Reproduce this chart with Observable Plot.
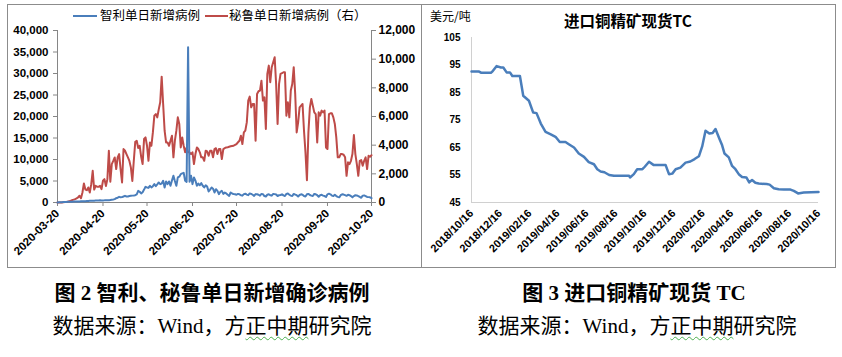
<!DOCTYPE html>
<html><head><meta charset="utf-8">
<script src="https://cdn.jsdelivr.net/npm/d3@7"></script>
<script src="https://cdn.jsdelivr.net/npm/@observablehq/plot@0.6"></script>
<style>
body{margin:0;background:#fff;}
#page{position:relative;width:842px;height:357px;overflow:hidden;background:#fff;font-family:"Liberation Sans",Arial,"Noto Sans CJK SC",sans-serif;}
.panel{position:absolute;border:1px solid #8c8c8c;box-sizing:border-box;}
.abs{position:absolute;white-space:nowrap;line-height:1;}
.cjk{font-family:"Noto Sans CJK SC",sans-serif;}
.cap1{font-family:"Liberation Serif","Noto Sans CJK SC",serif;font-weight:bold;font-size:21px;text-align:center;width:400px;}
.cap2{font-family:"Liberation Serif","Noto Sans CJK SC",serif;font-size:21px;text-align:center;width:400px;}
.wavy{text-decoration:underline wavy #4caf50;text-decoration-thickness:1px;text-underline-offset:3px;}
.plot{position:absolute;}
</style></head>
<body>
<div id="page">
  <div class="panel" style="left:7px;top:4px;width:415px;height:264px;"></div>
  <div class="panel" style="left:421px;top:4px;width:415px;height:264px;"></div>
  <div id="left" class="plot" style="left:7px;top:4px;"></div>
  <div id="right" class="plot" style="left:421px;top:4px;"></div>
  <div id="legend"></div>
  <div class="abs cjk" style="left:430px;top:10px;font-size:12px;">美元/吨</div>
  <div class="abs cjk" style="left:548px;top:13px;width:160px;text-align:center;font-size:15.5px;font-weight:bold;">进口铜精矿现货TC</div>
  <div class="abs cap1" style="left:12px;top:283px;">图 2&nbsp;智利、秘鲁单日新增确诊病例</div>
  <div class="abs cap2" style="left:12px;top:316px;">数据来源：Wind，方<span class="wavy">正中期</span>研究院</div>
  <div class="abs cap1" style="left:434px;top:283px;">图 3&nbsp;进口铜精矿现货 TC</div>
  <div class="abs cap2" style="left:437px;top:316px;">数据来源：Wind，方<span class="wavy">正中期</span>研究院</div>
</div>
<script>
// ---- Figure 2: daily new cases (from 2020-03-20, one value per day)
const startDate = "2020-03-20";
const chileDaily = [0,50,50,80,100,100,130,150,160,180,
200,210,220,230,250,250,270,280,300,300,
330,350,400,420,380,420,450,480,450,500,
470,480,500,530,540,500,600,650,700,780,
1000,1100,1320,1200,1250,1400,1550,1400,1400,1500,
1550,1600,1650,1710,1900,2720,2500,2100,2400,3000,
3650,3500,3400,3880,3500,3800,4270,3800,4200,4660,
4270,4400,5050,3500,4900,4270,4900,3900,5100,6220,
5000,3880,5830,6000,6600,6760,6900,5050,4800,36100,
4800,6220,4270,5830,5100,3880,4400,4000,4500,3900,
3500,4000,3700,2560,3000,3500,3200,2330,3100,2700,
1940,2500,2700,2000,2300,2100,1800,1550,2330,2100,
1950,1900,1800,2000,1900,1700,1600,1950,2050,1850,
1700,2100,2000,1800,1550,1950,1900,1800,1600,2000,
1950,1500,1400,1800,1900,1700,1600,2000,1950,1850,
1500,1700,1750,1900,1650,1500,2000,2100,1800,1600,
1500,2000,1850,1700,1400,1750,1900,1800,1500,1400,
1900,2000,1750,1600,1500,2000,1900,1700,1350,1700,
1800,1600,1500,1300,1900,2050,1900,1600,1500,1800,
1500,1300,1200,1700,1900,1850,1700,1550,1800,1700,
1500,1200,1500,1700,1650,1500,1300,1100,1600,1650,
1500,1300,1250,1200,1000];
const peruDaily = [0,0,0,0,10,30,40,60,80,120,
170,200,240,290,350,470,300,700,1330,900,
860,1050,700,1280,2210,900,1165,1100,1095,1160,
930,1515,1630,1150,1630,3610,1450,2680,2900,3145,
2330,3145,3380,2330,1400,3730,3610,3380,3150,2900,
2450,1500,2910,4240,4310,3800,3960,3200,2680,4430,
4540,3960,2910,4190,3960,4890,6060,6170,5940,6500,
6990,8780,6870,5010,4190,4190,3960,4310,4660,3150,
4310,5010,5940,5480,3840,4540,3960,3500,3840,3500,
3500,3380,3500,2680,3380,3840,3730,3500,3150,3150,
2910,3610,3560,3260,3610,3610,3150,3730,3790,3380,
3730,3730,3030,3730,3790,3840,3860,3890,3920,3940,
3960,4020,4080,4200,4310,4660,4080,4890,5010,5590,
7110,7390,6640,6870,6870,4310,7570,7760,7810,8500,
7110,7340,5130,8970,9550,8390,9440,9790,10140,8270,
5480,8270,8970,9020,9090,9090,6060,6990,5940,7810,
8270,9440,7570,4890,5590,6640,6760,6870,5010,3500,
1560,4890,6640,7220,6760,6290,6170,4190,6290,6060,
6410,6290,6410,3840,3730,6170,6220,6220,5940,5480,
4540,3150,3150,3380,3380,3330,3150,1860,2800,2680,
2910,3380,4710,3380,2680,1860,2910,2960,2560,2910,
3150,2330,3260,3190,3300];
const fig2XTicks = ["2020-03-20","2020-04-20","2020-05-20","2020-06-20","2020-07-20","2020-08-20","2020-09-20","2020-10-20"];
const fig2LeftTicks = [0,5000,10000,15000,20000,25000,30000,35000,40000];
const fig2RightTicks = [0,2000,4000,6000,8000,10000,12000];
const seriesNames = ["智利单日新增病例","秘鲁单日新增病例（右）"];
const seriesColors = ["#4a7ebb","#be4b48"];

// ---- Figure 3: imported copper concentrate spot TC (USD/t)
const tcDates = ["2018-10-16","2018-11-01","2018-11-05","2018-11-26","2018-11-29","2018-12-08","2018-12-17","2018-12-22","2018-12-29","2019-01-05","2019-01-10","2019-01-26","2019-02-02","2019-02-14","2019-02-23","2019-03-02","2019-03-11","2019-03-21","2019-04-01","2019-04-11","2019-04-20","2019-05-02","2019-05-09","2019-05-20","2019-05-30","2019-06-10","2019-06-20","2019-07-01","2019-07-08","2019-07-15","2019-07-23","2019-08-02","2019-08-12","2019-09-13","2019-09-15","2019-09-23","2019-09-30","2019-10-11","2019-10-16","2019-10-25","2019-11-04","2019-11-29","2019-12-06","2019-12-13","2019-12-20","2019-12-30","2020-01-10","2020-01-20","2020-01-29","2020-02-07","2020-02-14","2020-02-21","2020-02-29","2020-03-07","2020-03-13","2020-03-21","2020-03-27","2020-04-01","2020-04-10","2020-04-17","2020-04-24","2020-05-01","2020-05-08","2020-05-17","2020-05-23","2020-05-29","2020-06-05","2020-06-12","2020-06-29","2020-07-05","2020-07-14","2020-07-24","2020-08-04","2020-08-18","2020-08-25","2020-09-03","2020-09-15","2020-10-16"];
const tcValues = [92.6,92.6,92.2,92.2,92.6,94.6,94.1,94.1,92.3,92.3,91.0,91.0,83.8,82.0,77.7,77.5,73.7,70.7,69.8,68.9,67.0,67.0,66.2,65.0,62.8,61.6,59.7,58.9,57.1,56.3,56.0,55.0,54.7,54.7,54.1,55.3,57.1,57.1,58.0,59.8,58.6,58.6,55.3,55.5,57.1,57.7,59.5,59.9,60.8,61.8,65.4,71.1,70.1,70.3,71.7,68.3,65.8,62.8,61.4,58.3,57.1,55.3,54.3,54.1,52.3,53.2,52.2,51.9,51.7,51.5,50.2,49.8,49.7,49.7,49.2,48.3,48.6,48.8];
const fig3XTicks = ["2018-10-16","2018-12-16","2019-02-16","2019-04-16","2019-06-16","2019-08-16","2019-10-16","2019-12-16","2020-02-16","2020-04-16","2020-06-16","2020-08-16","2020-10-16"];
const fig3YTicks = [45,55,65,75,85,95,105];

// ---------- build
const d0 = new Date(startDate + "T00:00:00Z");
const dayDate = i => new Date(d0.getTime() + i * 86400000);
const k = 40000 / 12000; // right axis -> left axis
const chile = chileDaily.map((v, i) => ({date: dayDate(i), v}));
const peru = peruDaily.map((v, i) => ({date: dayDate(i), v: v * k}));
const p = s => new Date(s + "T00:00:00Z");
const fmt = d3.format(",");
const axisGrey = "#868686";
const tickFont = {fontFamily: '"Liberation Sans", Arial, sans-serif', fontWeight: "bold", fontSize: "11px", color: "#000", background: "transparent", overflow: "visible"};

const left = Plot.plot({
  width: 414, height: 263,
  marginLeft: 50, marginRight: 50, marginTop: 26, marginBottom: 65,
  style: tickFont,
  x: {type: "utc", domain: [p(fig2XTicks[0]), p(fig2XTicks[fig2XTicks.length - 1])]},
  y: {domain: [0, 40000]},
  marks: [
    Plot.ruleY([0], {stroke: axisGrey}),
    Plot.ruleX([p(fig2XTicks[0])], {stroke: axisGrey}),
    Plot.ruleX([p(fig2XTicks[fig2XTicks.length - 1])], {stroke: axisGrey}),
    Plot.axisY({anchor: "left", ticks: fig2LeftTicks, tickFormat: fmt, tickSize: 4, tickPadding: 5, stroke: axisGrey, fill: "#000", label: null, fontSize: 11.5}),
    Plot.axisY({anchor: "right", ticks: fig2RightTicks.map(v => v * k), tickFormat: d => fmt(Math.round(d / k)), tickSize: 4, tickPadding: 3, stroke: axisGrey, fill: "#000", label: null, fontSize: 12}),
    Plot.axisX({ticks: fig2XTicks.map(p), tickFormat: d3.utcFormat("%Y-%m-%d"), tickRotate: -45, tickSize: 4, tickPadding: 5, stroke: axisGrey, fill: "#000", label: null, fontSize: 11.5}),
    Plot.lineY(peru, {x: "date", y: "v", stroke: seriesColors[1], strokeWidth: 2}),
    Plot.lineY(chile, {x: "date", y: "v", stroke: seriesColors[0], strokeWidth: 2})
  ]
});
document.getElementById("left").append(left);

const tc = tcDates.map((d, i) => ({date: p(d), v: tcValues[i]}));
const right = Plot.plot({
  width: 414, height: 263,
  marginLeft: 50, marginRight: 17, marginTop: 33, marginBottom: 65,
  style: {...tickFont, fontSize: "10px"},
  x: {type: "utc", domain: [p(fig3XTicks[0]), p(fig3XTicks[fig3XTicks.length - 1])]},
  y: {domain: [45, 105]},
  marks: [
    Plot.ruleY([45], {stroke: "#d0d0d0"}),
    Plot.ruleX([p(fig3XTicks[0])], {stroke: "#d0d0d0"}),
    Plot.axisY({anchor: "left", ticks: fig3YTicks, tickSize: 0, tickPadding: 11, fill: "#000", label: null}),
    Plot.axisX({ticks: fig3XTicks.map(p), tickFormat: d3.utcFormat("%Y/%m/%d"), tickRotate: -45, tickSize: 0, tickPadding: 9, fill: "#000", label: null, fontSize: 11}),
    Plot.lineY(tc, {x: "date", y: "v", stroke: "#4a7ebb", strokeWidth: 2.5})
  ]
});
document.getElementById("right").append(right);

// legend
const lg = document.getElementById("legend");
const items = [{x: 73, w: 24, tx: 100}, {x: 205, w: 23, tx: 229}];
items.forEach((it, i) => {
  const line = document.createElement("div");
  line.className = "abs";
  line.style.cssText = `left:${it.x}px;top:15px;width:${it.w}px;height:2px;background:${seriesColors[i]};`;
  lg.append(line);
  const t = document.createElement("div");
  t.className = "abs cjk";
  t.style.cssText = `left:${it.tx}px;top:9px;font-size:12.5px;`;
  t.textContent = seriesNames[i];
  lg.append(t);
});
</script>
</body></html>
